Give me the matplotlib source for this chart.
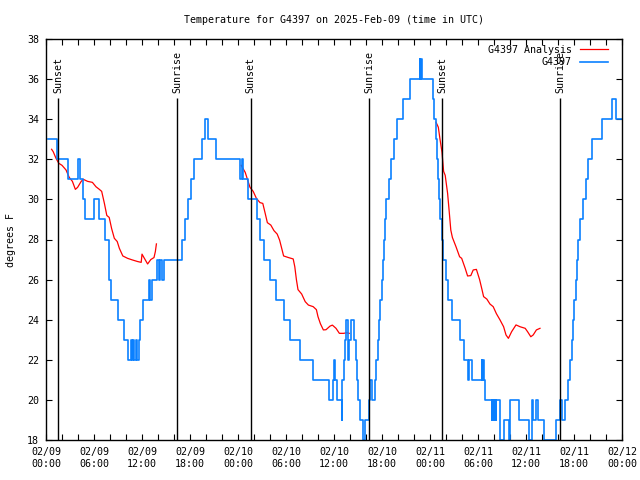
import matplotlib
matplotlib.use('Agg')
import matplotlib.pyplot as plt
import matplotlib.dates as mdates
import pandas as pd
import numpy as np

base = pd.Timestamp('2025-02-09 00:00')

# observed temps (hours from base, degF) - step changes
obs_hours = [0.2, 1.4, 2.7, 4.05, 4.3, 4.6, 4.85, 6.0, 6.6, 7.4, 7.9, 8.15, 8.95, 9.7, 10.3,
             10.6, 10.75, 10.9, 11.05, 11.2, 11.4, 11.6, 11.8, 12.1, 12.9, 13.05, 13.2, 13.9,
             14.1, 14.2, 14.55, 14.75, 17.05, 17.4, 17.75, 18.1, 18.5, 19.55, 19.9, 20.3, 21.3,
             24.3, 24.45, 24.6, 25.3, 26.35, 26.75, 27.3, 28.0, 28.8, 29.8, 30.5, 31.75, 33.4,
             35.4, 35.9, 36.0, 36.15, 36.4, 36.95, 37.05, 37.2, 37.4, 37.55, 37.75, 37.9, 38.1,
             38.45, 38.7, 38.9, 39.05, 39.25, 39.6, 39.85, 40.4, 40.55, 40.75, 41.1, 41.3, 41.5,
             41.65, 41.8, 41.95, 42.1, 42.25, 42.4, 42.55, 42.85, 43.15, 43.45, 43.85, 44.6,
             45.55, 46.7, 46.8, 46.85, 46.95, 48.35, 48.55, 48.75, 48.9, 49.05, 49.15, 49.3,
             49.45, 49.6, 50.0, 50.3, 50.7, 51.75, 52.2, 52.8, 52.9, 53.3, 54.45, 54.55, 54.65,
             54.7, 54.9, 55.7, 55.8, 55.95, 56.05, 56.2, 56.3, 56.75, 57.2, 57.9, 58.0, 59.1,
             60.4, 60.7, 60.9, 61.3, 61.5, 62.3, 63.75, 64.25, 64.45, 64.9, 65.2, 65.45, 65.7,
             65.85, 66.0, 66.2, 66.35, 66.55, 66.8, 67.1, 67.5, 67.8, 68.2, 69.5, 70.8, 71.3, 72.0]
obs_temps = [33, 32, 31, 32, 31, 30, 29, 30, 29, 28, 26, 25, 24, 23, 22,
             23, 22, 23, 22, 23, 22, 23, 24, 25, 26, 25, 26, 27,
             26, 27, 26, 27, 28, 29, 30, 31, 32, 33, 34, 33, 32,
             31, 32, 31, 30, 29, 28, 27, 26, 25, 24, 23, 22, 21,
             20, 21, 22, 21, 20, 19, 21, 22, 23, 24, 22, 23, 24,
             23, 22, 21, 20, 19, 18, 19, 20, 21, 20, 21, 22, 23,
             24, 25, 26, 27, 28, 29, 30, 31, 32, 33, 34, 35,
             36, 37, 36, 37, 36, 35, 34, 33, 32, 31, 30, 29,
             28, 27, 26, 25, 24, 23, 22, 21, 22, 21, 22, 21, 22,
             21, 20, 19, 20, 19, 20, 19, 20, 18, 19, 18, 20, 19,
             18, 20, 19, 20, 19, 18, 19, 20, 19, 20, 21, 22, 23,
             24, 25, 26, 27, 28, 29, 30, 31, 32, 33, 34, 35, 34, 34]

# analysis series, one run per day
ana1_hours = [0.7, 0.9, 1.25, 1.6, 2.0, 2.5, 2.9, 3.3, 3.67, 3.95, 4.4, 4.67, 5.2, 5.8, 6.25,
              6.67, 6.96, 7.3, 7.6, 7.9, 8.2, 8.54, 8.9, 9.17, 9.6, 10.2, 10.8, 11.46, 11.9,
              12.0, 12.3, 12.7, 13.1, 13.5, 13.67, 13.8]
ana1_temps = [32.5, 32.38, 32.05, 31.8, 31.7, 31.47, 31.1, 30.9, 30.5, 30.6, 30.9, 31.0, 30.9,
              30.85, 30.63, 30.5, 30.4, 29.8, 29.2, 29.1, 28.55, 28.06, 27.9, 27.56, 27.18,
              27.06, 26.98, 26.9, 26.86, 27.27, 27.06, 26.78, 27.0, 27.1, 27.4, 27.78]
ana2_hours = [24.4, 24.9, 25.5, 25.9, 26.3, 26.75, 27.1, 27.4, 27.67, 28.1, 28.5, 28.9, 29.2,
              29.5, 29.7, 30.3, 30.9, 31.1, 31.3, 31.5, 31.96, 32.4, 32.8, 33.4, 33.8, 34.0,
              34.3, 34.67, 35.0, 35.5, 35.8, 36.25, 36.67, 37.2, 37.6, 37.9]
ana2_temps = [31.7, 31.35, 30.6, 30.4, 30.05, 29.84, 29.8, 29.3, 28.84, 28.72, 28.44, 28.27,
              27.97, 27.5, 27.18, 27.1, 27.03, 26.64, 26.0, 25.5, 25.28, 24.9, 24.73, 24.65,
              24.5, 24.15, 23.8, 23.49, 23.5, 23.68, 23.73, 23.57, 23.32, 23.32, 23.35, 23.32]
ana3_hours = [48.75, 49.04, 49.25, 49.5, 49.7, 49.9, 50.2, 50.4, 50.6, 50.8, 51.25, 51.7, 51.96,
              52.4, 52.7, 53.1, 53.4, 53.8, 54.2, 54.5, 54.7, 55.1, 55.5, 55.9, 56.3, 56.75,
              57.2, 57.5, 57.8, 58.2, 58.75, 59.25, 59.9, 60.2, 60.6, 60.9, 61.3, 61.75]
ana3_temps = [33.85, 33.6, 33.0, 32.35, 31.4, 31.2, 30.3, 29.4, 28.47, 28.1, 27.64, 27.14,
              27.06, 26.56, 26.18, 26.2, 26.48, 26.51, 26.0, 25.5, 25.15, 25.03, 24.78, 24.65,
              24.3, 23.99, 23.65, 23.24, 23.07, 23.4, 23.74, 23.65, 23.57, 23.4, 23.15, 23.24,
              23.49, 23.57]

sun_hours = [1.54, 16.38, 25.59, 40.41, 49.54, 64.29]
sun_labels = ['Sunset', 'Sunrise', 'Sunset', 'Sunrise', 'Sunset', 'Sunrise']


def to_time(hours):
    return base + pd.to_timedelta(np.array(hours), unit='h')


mono = 'DejaVu Sans Mono'
fs = 7.2
plt.rcParams['font.family'] = mono
plt.rcParams['font.size'] = fs

fig = plt.figure(figsize=(6.4, 4.8), dpi=100)
ax = fig.add_axes([46 / 640, 1 - 440 / 480, 576 / 640, 401 / 480])

red = '#ff0000'
blue = '#0a80ff'
ax.plot(to_time(ana1_hours), ana1_temps, color=red, lw=0.9, label='G4397 Analysis')
ax.plot(to_time(ana2_hours), ana2_temps, color=red, lw=0.9)
ax.plot(to_time(ana3_hours), ana3_temps, color=red, lw=0.9)
ax.plot(to_time(obs_hours), obs_temps, color=blue, lw=1.2, drawstyle='steps-post', label='G4397')

for h, lab in zip(sun_hours, sun_labels):
    t = to_time([h])[0]
    ax.vlines(t, 18, 35.05, color='black', lw=1.0, zorder=3)
    ax.text(t, 35.3, lab, rotation=90, ha='center', va='bottom', fontsize=fs, zorder=4)

ax.set_xlim(base, base + pd.Timedelta(hours=72))
ax.set_ylim(18, 38)
ax.set_yticks(np.arange(18, 39, 2))
ax.xaxis.set_major_locator(mdates.HourLocator(byhour=[0, 6, 12, 18]))
ax.xaxis.set_minor_locator(mdates.HourLocator(interval=2))
ax.xaxis.set_major_formatter(mdates.DateFormatter('%m/%d\n%H:%M'))
ax.tick_params(which='both', direction='in', top=True, right=True, length=4, width=0.8,
               labelsize=fs, pad=5)
for sp in ax.spines.values():
    sp.set_linewidth(1.0)

ax.legend(loc='upper right', bbox_to_anchor=(1 - 10 / 576, 1 - 2 / 401), frameon=False,
          markerfirst=False, handlelength=2.8, labelspacing=0.25, borderaxespad=0,
          fontsize=fs, handletextpad=0.8)

fig.text(334 / 640, 1 - 20 / 480, 'Temperature for G4397 on 2025-Feb-09 (time in UTC)',
         ha='center', va='center', fontsize=fs)
fig.text(11 / 640, 0.5, 'degrees F', rotation=90, ha='center', va='center', fontsize=fs)

fig.savefig('out.png', dpi=100)
